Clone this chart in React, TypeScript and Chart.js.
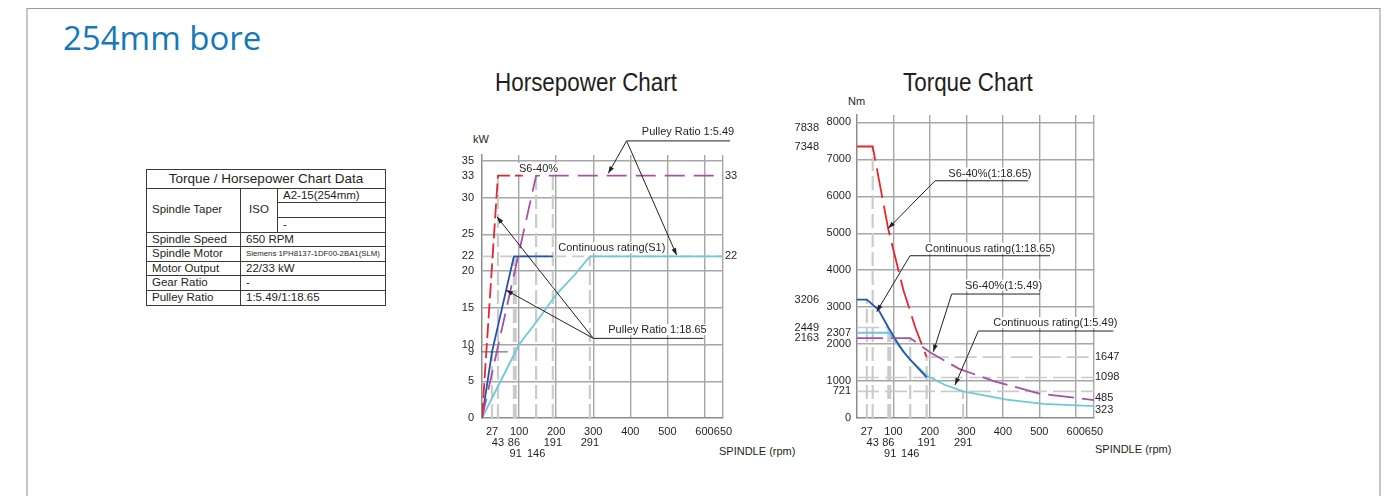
import React, { useEffect, useRef } from "react";
import { Chart, registerables } from "chart.js";

Chart.register(...registerables);

// ---------------- shared spindle-speed axis ----------------
const RPM_TICKS = [27, 43, 86, 91, 100, 146, 191, 200, 291, 300, 400, 500, 600, 650];
const RPM_LABEL_ROW: Record<number, number> = { 43: 1, 86: 1, 191: 1, 291: 1, 91: 2, 146: 2 };
const RPM_GRID = [100, 200, 300, 400, 500, 600, 650];

// ---------------- horsepower chart (kW) ----------------
const HP_TICKS = [0, 5, 9, 10, 15, 20, 22, 25, 30, 33, 35];
const HP_GRID = [5, 10, 15, 20, 25, 30, 35];
const HP_RIGHT_TICKS = [22, 33];
const HP_RIGHT_LABELS = ["22", "33"];

const HP_S6_1865_RPM = [0, 43, 110];
const HP_S6_1865_KW = [0, 33, 33];
const HP_S1_1865_RPM = [0, 27, 86, 191];
const HP_S1_1865_KW = [0, 9, 22, 22];
const HP_S6_549_RPM = [0, 146, 650];
const HP_S6_549_KW = [0, 33, 33];
const HP_S1_549_RPM = [0, 50, 100, 150, 200, 250, 291, 650];
const HP_S1_549_KW = [0, 5, 10, 13.3, 16.8, 19.5, 22, 22];

const HP_DROP_RPM = [27, 43, 86, 91, 146, 191, 291];
const HP_DROP_KW = [9, 33, 22, 22, 33, 33, 22];
const HP_LEVEL_KW = [22];
const HP_MARK_KW = [9];
const HP_MARK_END_RPM = [70];

// ---------------- torque chart (Nm) ----------------
const TQ_TICKS = [0, 721, 1000, 2000, 2307, 3000, 4000, 5000, 6000, 7000, 8000];
const TQ_GRID = [1000, 2000, 3000, 4000, 5000, 6000, 7000, 8000];
const TQ_OUTER_TICKS = [2163, 2449, 3206, 7348, 7838];
// right-hand value labels: text and the height at which each is printed
const TQ_RIGHT_LABELS = ["323", "485", "1098", "1647"];
const TQ_RIGHT_LABEL_AT = [216, 541, 1098, 1647];

const TQ_S6_1865_RPM = [0, 43, 86, 127, 160, 191];
const TQ_S6_1865_NM = [7348, 7348, 5100, 3470, 2450, 1647];
const TQ_S1_1865_RPM = [0, 27, 59, 86, 109, 127, 146, 191];
const TQ_S1_1865_NM = [3206, 3206, 2927, 2449, 2070, 1800, 1576, 1098];
const TQ_S6_549_RPM = [0, 146, 200, 280, 375, 500, 650];
const TQ_S6_549_NM = [2163, 2163, 1780, 1330, 1000, 660, 485];
const TQ_S1_549_RPM = [0, 88, 109, 146, 191, 240, 291, 410, 511, 650];
const TQ_S1_549_NM = [2307, 2307, 2027, 1576, 1150, 900, 721, 495, 380, 323];

const TQ_DROP_RPM = [27, 43, 86, 91, 146, 191, 291];
const TQ_DROP_NM = [3206, 7348, 2449, 2307, 2163, 1647, 721];
const TQ_LEVEL_NM = [1647, 1098, 721, 2449];
const TQ_LEVEL_FROM = [191, 0, 0, 0];
const TQ_LEVEL_TO = [650, 650, 650, 86];

// ---------------- annotations (data coordinates) ----------------
type Note = { text: string; x: number; y: number; ux1?: number; ux2?: number; uy?: number; tips?: number[][] };
const HP_NOTES: Note[] = [
  { text: "Pulley Ratio 1:5.49", x: 431, y: 38.5, ux1: 390, ux2: 669, uy: 37.72, tips: [[340.6, 33.3], [525, 22.17]] },
  { text: "S6-40%", x: 99.8, y: 33.46 },
  { text: "Continuous rating(S1)", x: 205.8, y: 22.72 },
  { text: "Pulley Ratio 1:18.65", x: 340.6, y: 11.56, ux1: 300.2, ux2: 597, uy: 10.84, tips: [[40.5, 27.38], [64.7, 17.41]] },
];
const TQ_NOTES: Note[] = [
  { text: "S6-40%(1:18.65)", x: 250.4, y: 6534, ux1: 213.9, ux2: 469.8, uy: 6420, tips: [[85.8, 5132]] },
  { text: "Continuous rating(1:18.65)", x: 186.5, y: 4504, ux1: 145.4, ux2: 529.3, uy: 4391, tips: [[54, 2876]] },
  { text: "S6-40%(1:5.49)", x: 296.2, y: 3503, ux1: 259.7, ux2: 501.9, uy: 3355, tips: [[209.3, 1794]] },
  { text: "Continuous rating(1:5.49)", x: 373.8, y: 2489, ux1: 332.7, ux2: 703, uy: 2354, tips: [[268.8, 893]] },
];

// ---------------- table ----------------
const TABLE_TITLE = "Torque / Horsepower Chart Data";
const TAPER_VALUES = ["A2-15(254mm)", "", "-"];
const TABLE_ROWS = [
  ["Spindle Speed", "650 RPM"],
  ["Spindle Motor", "Siemens 1PH8137-1DF00-2BA1(SLM)"],
  ["Motor Output", "22/33 kW"],
  ["Gear Ratio", "-"],
  ["Pulley Ratio", "1:5.49/1:18.65"],
];

// ---------------- styles ----------------
const TEXT = "#231f20";
const GRID = "#a6a6a6";
const AXIS = "#8c8c8c";
const DROP = "#cbcbcb";
const RED = "#e8262b";
const BLUE = "#2254ad";
const CYAN = "#6cc9d9";
const PURPLE = "#a650a8";
const FONT = "'Liberation Sans', Arial, Helvetica, sans-serif";
const CLEAR = "rgba(0,0,0,0)";

Chart.defaults.font.family = FONT;
Chart.defaults.font.size = 11;
Chart.defaults.color = TEXT;

function series(xs: number[], ys: number[], color: string, dash: number[], width: number, order: number) {
  return {
    data: xs.map((x, i) => ({ x, y: ys[i] })),
    borderColor: color,
    backgroundColor: color,
    borderWidth: width,
    borderDash: dash,
    pointRadius: 0,
    pointHoverRadius: 0,
    fill: false,
    tension: 0,
    order,
    borderCapStyle: "butt",
    borderJoinStyle: "miter",
  };
}

function makeNotesPlugin(notes: Note[]) {
  return {
    id: "leaders",
    afterDatasetsDraw(chart: any) {
      const { ctx, scales } = chart;
      const px = (v: number) => scales.x.getPixelForValue(v);
      const py = (v: number) => scales.y.getPixelForValue(v);
      ctx.save();
      ctx.font = `11px ${FONT}`;
      ctx.textBaseline = "alphabetic";
      ctx.textAlign = "left";
      for (const n of notes) {
        const tx = px(n.x);
        const ty = py(n.y);
        const w = ctx.measureText(n.text).width;
        ctx.fillStyle = "#ffffff";
        ctx.fillRect(tx - 1, ty - 9, w + 2, 11);
        ctx.fillStyle = TEXT;
        ctx.fillText(n.text, tx, ty);
        if (n.ux1 !== undefined && n.ux2 !== undefined && n.uy !== undefined) {
          const x1 = px(n.ux1);
          const x2 = px(n.ux2);
          const ly = py(n.uy);
          ctx.strokeStyle = TEXT;
          ctx.lineWidth = 1;
          ctx.beginPath();
          ctx.moveTo(x1, ly);
          ctx.lineTo(x2, ly);
          ctx.stroke();
          for (const t of n.tips || []) {
            const ax = px(t[0]);
            const ay = py(t[1]);
            ctx.beginPath();
            ctx.moveTo(x1, ly);
            ctx.lineTo(ax, ay);
            ctx.stroke();
            const ang = Math.atan2(ay - ly, ax - x1);
            const L = 7;
            const H = 2.4;
            ctx.beginPath();
            ctx.moveTo(ax, ay);
            ctx.lineTo(ax - L * Math.cos(ang) + H * Math.sin(ang), ay - L * Math.sin(ang) - H * Math.cos(ang));
            ctx.lineTo(ax - L * Math.cos(ang) - H * Math.sin(ang), ay - L * Math.sin(ang) + H * Math.cos(ang));
            ctx.closePath();
            ctx.fill();
          }
        }
      }
      ctx.restore();
    },
  };
}

function rpmScale(): any {
  return {
    type: "linear",
    min: 0,
    max: 650,
    afterBuildTicks: (s: any) => {
      s.ticks = RPM_TICKS.map((v) => ({ value: v }));
    },
    afterFit: (s: any) => {
      s.height = 52;
    },
    ticks: {
      autoSkip: false,
      maxRotation: 0,
      minRotation: 0,
      padding: 9,
      color: TEXT,
      font: { size: 11, lineHeight: 0.97 },
      callback: (v: number) => {
        const row = RPM_LABEL_ROW[v] || 0;
        if (!row) return String(v);
        const arr: string[] = [];
        for (let i = 0; i < row; i++) arr.push("");
        arr.push(String(v));
        return arr;
      },
    },
    grid: {
      drawTicks: false,
      color: (c: any) => (c.tick && RPM_GRID.includes(c.tick.value) ? GRID : CLEAR),
      lineWidth: 1.4,
    },
    border: { color: AXIS, width: 1.5 },
  };
}

function valueScale(
  ticks: number[],
  labels: string[] | null,
  grid: number[],
  min: number,
  max: number,
  width: number,
  padding: number,
  position: string,
  weight: number,
  showGrid: boolean
): any {
  return {
    type: "linear",
    position,
    weight,
    min,
    max,
    afterBuildTicks: (s: any) => {
      s.ticks = ticks.map((v) => ({ value: v }));
    },
    afterFit: (s: any) => {
      s.width = width;
    },
    ticks: {
      autoSkip: false,
      padding,
      color: TEXT,
      font: { size: 11 },
      callback: (v: number, i: number) => (labels ? labels[i] : String(v)),
    },
    grid: showGrid
      ? {
          drawTicks: false,
          color: (c: any) => (c.tick && grid.includes(c.tick.value) ? GRID : CLEAR),
          lineWidth: 1.4,
        }
      : { display: false, drawTicks: false },
    border: showGrid ? { color: AXIS, width: 1.5 } : { display: false },
  };
}

function baseOptions(scales: any, top: number): any {
  return {
    responsive: false,
    animation: false,
    events: [],
    layout: { padding: { top, left: 0, right: 0, bottom: 0 } },
    plugins: { legend: { display: false }, tooltip: { enabled: false }, title: { display: false } },
    scales,
  };
}

function HorsepowerChart() {
  const ref = useRef<HTMLCanvasElement | null>(null);
  useEffect(() => {
    if (!ref.current) return;
    const drops = HP_DROP_RPM.map((r, i) => series([r, r], [0, HP_DROP_KW[i]], DROP, [14, 5], 2.2, 20));
    const levels = HP_LEVEL_KW.map((k) => series([0, 650], [k, k], DROP, [12, 6], 1.6, 21));
    const marks = HP_MARK_KW.map((k, i) => series([0, HP_MARK_END_RPM[i]], [k, k], "#555555", [], 1, 19));
    const chart = new Chart(ref.current, {
      type: "line",
      data: {
        datasets: [
          ...drops,
          ...levels,
          ...marks,
          series(HP_S1_549_RPM, HP_S1_549_KW, CYAN, [], 1.8, 4),
          series(HP_S1_1865_RPM, HP_S1_1865_KW, BLUE, [], 1.8, 3),
          series(HP_S6_549_RPM, HP_S6_549_KW, PURPLE, [20, 9], 1.8, 2),
          series(HP_S6_1865_RPM, HP_S6_1865_KW, RED, [15, 5], 1.8, 1),
        ] as any,
      },
      options: baseOptions(
        {
          x: rpmScale(),
          y: valueScale(HP_TICKS, null, HP_GRID, 0, 35.8, 52, 8, "left", 0, true),
          y2: valueScale(HP_RIGHT_TICKS, HP_RIGHT_LABELS, [], 0, 35.8, 87, 2, "right", 0, false),
        },
        55
      ),
      plugins: [makeNotesPlugin(HP_NOTES)],
    });
    return () => chart.destroy();
  }, []);
  return <canvas ref={ref} width={380} height={370} style={{ position: "absolute", left: 430, top: 100, width: 380, height: 370 }} />;
}

function TorqueChart() {
  const ref = useRef<HTMLCanvasElement | null>(null);
  useEffect(() => {
    if (!ref.current) return;
    const drops = TQ_DROP_RPM.map((r, i) => series([r, r], [0, TQ_DROP_NM[i]], DROP, [14, 5], 2.2, 20));
    const levels = TQ_LEVEL_NM.map((t, i) => series([TQ_LEVEL_FROM[i], TQ_LEVEL_TO[i]], [t, t], DROP, [22, 6], 1.6, 21));
    const chart = new Chart(ref.current, {
      type: "line",
      data: {
        datasets: [
          ...drops,
          ...levels,
          series(TQ_S1_549_RPM, TQ_S1_549_NM, CYAN, [], 1.8, 4),
          series(TQ_S1_1865_RPM, TQ_S1_1865_NM, BLUE, [], 1.8, 3),
          series(TQ_S6_549_RPM, TQ_S6_549_NM, PURPLE, [26, 8], 1.8, 2),
          series(TQ_S6_1865_RPM, TQ_S6_1865_NM, RED, [30, 8], 1.8, 1),
        ] as any,
      },
      options: baseOptions(
        {
          x: rpmScale(),
          y: valueScale(TQ_TICKS, null, TQ_GRID, 0, 8200, 36, 6, "left", 0, true),
          yOuter: valueScale(TQ_OUTER_TICKS, null, [], 0, 8200, 41, 2, "left", 10, false),
          y2: valueScale(TQ_RIGHT_LABEL_AT, TQ_RIGHT_LABELS, [], 0, 8200, 106, 1, "right", 0, false),
        },
        35
      ),
      plugins: [makeNotesPlugin(TQ_NOTES)],
    });
    return () => chart.destroy();
  }, []);
  return <canvas ref={ref} width={420} height={390} style={{ position: "absolute", left: 780, top: 80, width: 420, height: 390 }} />;
}

function Label(props: { x: number; y: number; size: number; text: string; sx?: number; family?: string; color?: string }) {
  return (
    <div
      style={{
        position: "absolute",
        left: props.x,
        top: props.y,
        fontSize: props.size,
        lineHeight: 1,
        fontFamily: props.family || FONT,
        color: props.color || TEXT,
        whiteSpace: "nowrap",
        transform: props.sx ? `scaleX(${props.sx})` : undefined,
        transformOrigin: "left top",
      }}
    >
      {props.text}
    </div>
  );
}

function DataTable() {
  const cell: React.CSSProperties = {
    border: "1px solid #3a3a3a",
    padding: "0 0 0 5px",
    whiteSpace: "nowrap",
    overflow: "hidden",
    verticalAlign: "middle",
    lineHeight: 1,
    fontSize: 11.5,
  };
  return (
    <table
      style={{
        position: "absolute",
        left: 146,
        top: 169,
        width: 239,
        borderCollapse: "collapse",
        tableLayout: "fixed",
        fontFamily: FONT,
        color: TEXT,
        border: "1.5px solid #2a2a2a",
      }}
    >
      <colgroup>
        <col style={{ width: 94 }} />
        <col style={{ width: 37 }} />
        <col style={{ width: 108 }} />
      </colgroup>
      <tbody>
        <tr style={{ height: 18.5 }}>
          <td colSpan={3} style={{ ...cell, textAlign: "center", fontSize: 13.5, padding: 0 }}>
            {TABLE_TITLE}
          </td>
        </tr>
        {TAPER_VALUES.map((v, i) => (
          <tr key={"t" + i} style={{ height: 14.7 }}>
            {i === 0 ? (
              <td rowSpan={3} style={cell}>
                Spindle Taper
              </td>
            ) : null}
            {i === 0 ? (
              <td rowSpan={3} style={{ ...cell, padding: 0, textAlign: "center" }}>
                ISO
              </td>
            ) : null}
            <td style={cell}>{v}</td>
          </tr>
        ))}
        {TABLE_ROWS.map((r, i) => (
          <tr key={"r" + i} style={{ height: 14.6 }}>
            <td style={cell}>{r[0]}</td>
            <td colSpan={2} style={{ ...cell, fontSize: r[1].length > 20 ? 7.8 : 11.5 }}>
              {r[1]}
            </td>
          </tr>
        ))}
      </tbody>
    </table>
  );
}

export default function App() {
  return (
    <div style={{ position: "absolute", left: 0, top: 0, width: 1386, height: 496, overflow: "hidden", background: "#ffffff" }}>
      <div
        style={{
          position: "absolute",
          left: 26,
          top: 8,
          width: 1355,
          height: 520,
          boxSizing: "border-box",
          borderTop: "1px solid #9a9a9a",
          borderLeft: "2px solid #c6c6c6",
          borderRight: "2px solid #c6c6c6",
        }}
      />
      <Label x={63} y={21} size={33} text="254mm bore" family="'Open Sans', 'Noto Sans', sans-serif" color="#1479ba" />
      <DataTable />
      <Label x={495} y={70} size={25} sx={0.897} text="Horsepower Chart" />
      <Label x={903} y={70} size={25} sx={0.897} text="Torque Chart" />
      <Label x={473} y={134} size={11} text="kW" />
      <Label x={848} y={96} size={11} text="Nm" />
      <Label x={719} y={446} size={11} text="SPINDLE (rpm)" />
      <Label x={1095} y={444} size={11} text="SPINDLE (rpm)" />
      <HorsepowerChart />
      <TorqueChart />
    </div>
  );
}
